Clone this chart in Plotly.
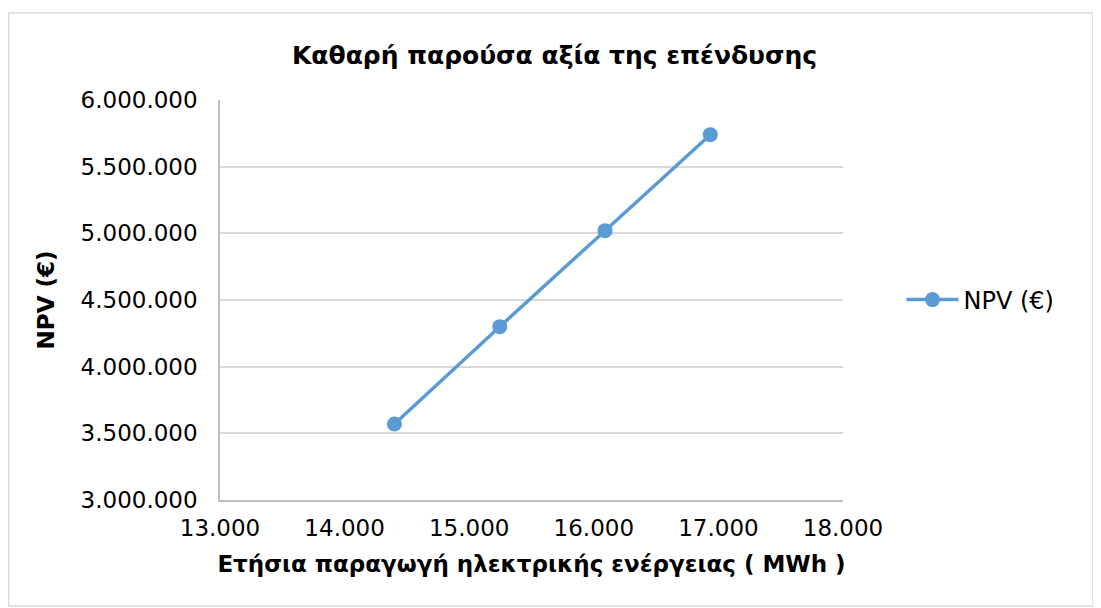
import plotly.graph_objects as go

production_mwh = [14400, 15245, 16090, 16935]
npv_eur = [3570000, 4300000, 5020000, 5740000]
series_name = "NPV (€)"
title_text = "Καθαρή παρούσα αξία της επένδυσης"
x_title = "Ετήσια παραγωγή ηλεκτρικής ενέργειας ( MWh )"
y_title = "NPV (€)"

fig = go.Figure()
fig.add_trace(go.Scatter(
    x=production_mwh, y=npv_eur, name=series_name, mode="lines+markers",
    line=dict(color="#5B9BD5", width=3.5),
    marker=dict(color="#5B9BD5", size=15),
    showlegend=True,
))

font_family = "DejaVu Sans, Liberation Sans, Arial, sans-serif"
W, H = 1093, 600
L, T, R, B = 212, 92, 258, 108
PW, PH = W - L - R, H - T - B

fig.update_layout(
    width=W, height=H,
    paper_bgcolor="white", plot_bgcolor="white",
    separators=",.",
    margin=dict(l=L, r=R, t=T, b=B),
    font=dict(family=font_family, color="#000000", size=23),
    title=dict(text="<b>" + title_text + "</b>", x=0.5, xanchor="center",
               y=1 - 47 / H, yanchor="middle", font=dict(size=25)),
    xaxis=dict(range=[13000, 18000], dtick=1000, tickformat=",d",
               showgrid=False, showline=True, linecolor="#BFBFBF", linewidth=1.5,
               zeroline=False, ticks="", tickfont=dict(size=23), ticklabelstandoff=7,
               title=dict(text="<b>" + x_title + "</b>", font=dict(size=23), standoff=16)),
    yaxis=dict(range=[3000000, 6000000], dtick=500000, tickformat=",d",
               showgrid=True, gridcolor="#D9D9D9", gridwidth=1.5,
               showline=True, linecolor="#BFBFBF", linewidth=1.5,
               zeroline=False, ticks="", tickfont=dict(size=23), ticklabelstandoff=16,
               title=dict(text="<b>" + y_title + "</b>", font=dict(size=23), standoff=20)),
    legend=dict(x=(901.5 - 220) / PW, y=0.5, xanchor="left", yanchor="middle",
                font=dict(size=24), bgcolor="rgba(0,0,0,0)", itemwidth=52),
    shapes=[dict(type="rect", xref="paper", yref="paper",
                 x0=(0.5 - L) / PW, x1=(1085 - L) / PW,
                 y0=(T + PH - 598) / PH, y1=(T + PH - 5) / PH,
                 line=dict(color="#D9D9D9", width=1.5), fillcolor="rgba(0,0,0,0)")],
)

fig.write_html("out.html")
